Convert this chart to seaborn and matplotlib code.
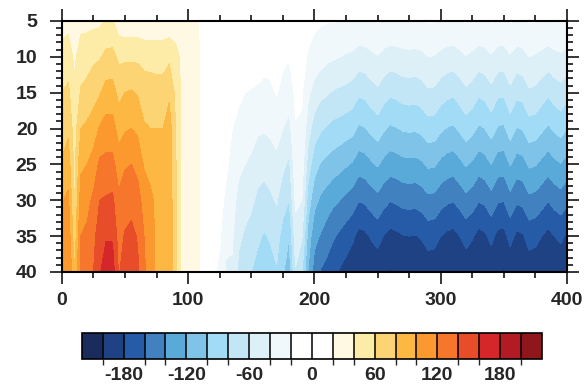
import matplotlib
matplotlib.use("Agg")
import matplotlib.pyplot as plt
import numpy as np
import seaborn as sns
from matplotlib.colors import ListedColormap, BoundaryNorm
from matplotlib.ticker import MultipleLocator

sns.set_theme(style="ticks")
plt.rcParams['font.family'] = ['Liberation Sans', 'DejaVu Sans']
plt.rcParams['axes.unicode_minus'] = False

# depth rows (y axis), read at every 5 units
depths = [5, 10, 15, 20, 25, 30, 35, 40]

# warm part, x = 0 .. 110
x_left = list(range(0, 115, 5))
vals_left = [
    [32, 46, 60, 70, 82, 98, 108, 115],
    [34, 50, 64, 76, 90, 104, 114, 120],
    [28, 36, 44, 50, 54, 58, 66, 82],
    [34, 50, 62, 80, 96, 110, 120, 126],
    [34, 52, 66, 84, 100, 114, 124, 130],
    [35, 56, 72, 90, 108, 124, 134, 140],
    [36, 58, 78, 102, 124, 140, 152, 158],
    [42, 65, 88, 108, 126, 142, 158, 172],
    [42, 66, 88, 108, 126, 144, 158, 170],
    [28, 56, 74, 92, 110, 124, 132, 138],
    [26, 56, 80, 98, 118, 130, 142, 150],
    [26, 56, 82, 100, 120, 132, 146, 154],
    [26, 56, 78, 96, 114, 128, 138, 144],
    [26, 52, 72, 82, 98, 112, 120, 124],
    [26, 52, 70, 80, 94, 104, 108, 108],
    [26, 52, 68, 80, 90, 96, 96, 96],
    [26, 52, 68, 80, 88, 92, 92, 92],
    [26, 56, 76, 90, 92, 94, 94, 94],
    [26, 48, 56, 60, 62, 62, 62, 62],
    [26, 34, 36, 36, 36, 36, 36, 36],
    [26, 28, 28, 28, 28, 28, 28, 28],
    [24, 26, 26, 26, 26, 26, 26, 26],
    [18, 18, 18, 18, 18, 18, 18, 18],
]

# transition, x = 115 .. 230
x_mid = list(range(115, 235, 5))
vals_mid = [
    [6, 4, 2, 0, -1, -3, -5, -8],
    [0, -2, -4, -6, -8, -10, -13, -17],
    [-2, -4, -6, -8, -11, -14, -18, -24],
    [-3, -6, -9, -12, -17, -24, -33, -44],
    [-4, -8, -13, -20, -27, -33, -38, -42],
    [-5, -10, -17, -25, -36, -46, -56, -66],
    [-6, -12, -20, -29, -40, -52, -63, -72],
    [-7, -13, -21, -32, -44, -56, -68, -80],
    [-8, -14, -22, -37, -52, -64, -76, -88],
    [-8, -15, -24, -38, -54, -68, -82, -96],
    [-9, -15, -23, -36, -50, -64, -78, -88],
    [-9, -14, -19, -32, -46, -58, -72, -82],
    [-10, -16, -26, -40, -56, -72, -88, -98],
    [-12, -19, -30, -47, -64, -80, -100, -110],
    [-10, -13, -17, -21, -28, -36, -48, -62],
    [-11, -14, -18, -22, -30, -40, -58, -78],
    [-14, -22, -36, -52, -70, -90, -108, -122],
    [-16, -28, -48, -70, -92, -114, -134, -150],
    [-18, -32, -55, -78, -102, -124, -142, -162],
    [-19, -36, -58, -82, -106, -130, -150, -168],
    [-19, -38, -62, -86, -110, -136, -158, -175],
    [-20, -40, -64, -88, -114, -140, -164, -182],
    [-21, -42, -66, -91, -118, -145, -170, -188],
    [-21, -44, -69, -94, -122, -150, -176, -194],
]

# cold part, x = 235 .. 400
x_right = list(range(235, 405, 5))
vals_right = [
    [-21, -49, -77, -103, -131, -159, -186, -201],
    [-21, -48, -75, -101, -129, -157, -184, -200],
    [-21, -44, -69, -95, -123, -151, -178, -196],
    [-19, -41, -64, -90, -118, -146, -173, -193],
    [-21, -46, -72, -98, -126, -154, -181, -198],
    [-21, -49, -77, -103, -131, -159, -186, -201],
    [-21, -48, -75, -101, -129, -157, -184, -200],
    [-21, -46, -72, -98, -126, -154, -181, -198],
    [-21, -45, -71, -97, -125, -153, -180, -197],
    [-21, -46, -72, -98, -126, -154, -181, -198],
    [-21, -44, -69, -95, -123, -151, -178, -196],
    [-19, -40, -63, -89, -117, -145, -172, -192],
    [-19, -41, -64, -90, -118, -146, -173, -193],
    [-21, -45, -71, -97, -125, -153, -180, -197],
    [-21, -48, -75, -101, -129, -157, -184, -200],
    [-21, -49, -77, -103, -131, -159, -186, -201],
    [-21, -45, -71, -97, -125, -153, -180, -197],
    [-19, -41, -64, -90, -118, -146, -173, -193],
    [-21, -44, -69, -95, -123, -151, -178, -196],
    [-21, -49, -77, -103, -131, -159, -186, -201],
    [-21, -47, -74, -100, -128, -156, -183, -199],
    [-19, -42, -66, -92, -120, -148, -175, -194],
    [-21, -48, -76, -102, -130, -158, -185, -200],
    [-21, -49, -77, -103, -131, -159, -186, -201],
    [-19, -42, -65, -91, -119, -147, -174, -194],
    [-21, -48, -75, -101, -129, -157, -184, -200],
    [-21, -46, -73, -99, -127, -155, -182, -198],
    [-19, -40, -63, -89, -117, -145, -172, -192],
    [-19, -42, -65, -91, -119, -147, -174, -194],
    [-21, -45, -71, -97, -125, -153, -180, -197],
    [-21, -49, -77, -103, -131, -159, -186, -201],
    [-21, -45, -71, -97, -125, -153, -180, -197],
    [-19, -43, -67, -93, -121, -149, -176, -195],
    [-21, -47, -74, -100, -128, -156, -183, -199],
]

levels = [-200, -180, -160, -140, -120, -100, -80, -60, -40, -20, 0,
          20, 40, 60, 80, 100, 120, 140, 160, 180, 200]
colors = ["#1a2b5e", "#1f4284", "#265ba8", "#4181c0", "#5aaad9", "#7fc3e8",
          "#a2dbf5", "#c3e6f6", "#ddf0f8", "#f0f8fb", "#ffffff", "#ffffff",
          "#fff8e3", "#fdeca7", "#fdd474", "#fdb743", "#fb992e", "#f6772b",
          "#e74d29", "#d5262a", "#b31b24", "#8f171c"]
cbar_ticks = [-180, -120, -60, 0, 60, 120, 180]

x = np.array(x_left + x_mid + x_right)
z = np.array(vals_left + vals_mid + vals_right).T

cmap = ListedColormap(colors[1:-1])
cmap.set_under(colors[0])
cmap.set_over(colors[-1])
norm = BoundaryNorm(levels, cmap.N)

fig = plt.figure(figsize=(5.84, 3.88), dpi=100)
ax = fig.add_axes([0.106, 0.299, 0.865, 0.647])
cs = ax.contourf(x, depths, z, levels=levels, cmap=cmap, norm=norm, extend='both')

ax.set_xlim(0, 400)
ax.set_ylim(40, 5)
ax.xaxis.set_major_locator(MultipleLocator(100))
ax.xaxis.set_minor_locator(MultipleLocator(25))
ax.yaxis.set_major_locator(MultipleLocator(5))
ax.yaxis.set_minor_locator(MultipleLocator(1))
ax.tick_params(which='both', direction='out', top=True, right=True,
               width=1.1, color='black')
ax.tick_params(which='major', length=8.6, labelsize=14)
ax.tick_params(which='minor', length=4.3)
ax.tick_params(axis='y', which='major', pad=9)
ax.tick_params(axis='x', which='major', pad=6)
for lab in ax.get_xticklabels() + ax.get_yticklabels():
    lab.set_fontweight('bold')
for sp in ax.spines.values():
    sp.set_linewidth(1.5)
    sp.set_color('black')

cax = fig.add_axes([0.140, 0.075, 0.788, 0.067])
cb = fig.colorbar(cs, cax=cax, orientation='horizontal', ticks=cbar_ticks,
                  extendrect=True, extendfrac=0.05, drawedges=True, spacing='uniform')
cb.outline.set_linewidth(1.2)
cb.outline.set_edgecolor('black')
cb.dividers.set_color('black')
cb.dividers.set_linewidth(1.1)
cb.ax.tick_params(length=0, labelsize=14, pad=6)
for lab in cb.ax.get_xticklabels():
    lab.set_fontweight('bold')

fig.savefig("out.png", dpi=100)
